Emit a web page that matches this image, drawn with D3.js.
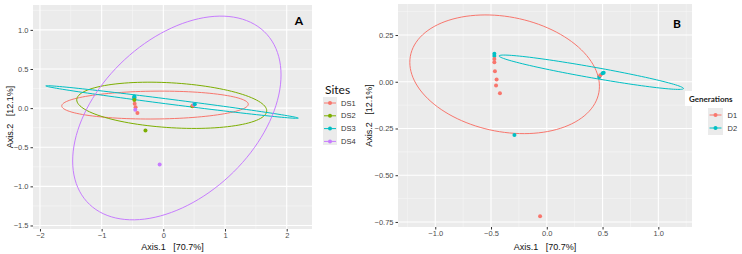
<!DOCTYPE html>
<html>
<head>
<meta charset="utf-8">
<script src="https://cdn.jsdelivr.net/npm/d3@7"></script>
<style>
  body { margin: 0; background: #fff; }
  svg { display: block; }
  .tick text { font-family: "Liberation Sans", Arial, sans-serif; font-size: 7.5px; fill: #4d4d4d; }
  .tick line { stroke: #333; }
  .axisTitle { font-family: "Liberation Sans", Arial, sans-serif; font-size: 9px; fill: #111; }
</style>
</head>
<body>
<div id="chart"></div>
<script>
// PCoA scores (Axis.1, Axis.2), with their site and generation
var axis1 = [-0.47, -0.47, -0.47, -0.47, -0.465, -0.45, -0.455, -0.42, -0.29, 0.47, 0.48, 0.50, 0.51, -0.06];
var axis2 = [0.150, 0.138, 0.122, 0.104, 0.056, 0.012, -0.020, -0.062, -0.285, 0.025, 0.035, 0.045, 0.048, -0.72];
var site = ["DS3", "DS3", "DS3", "DS2", "DS1", "DS1", "DS4", "DS1", "DS2", "DS2", "DS1", "DS4", "DS3", "DS4"];
var generation = ["D2", "D2", "D1", "D1", "D1", "D1", "D1", "D1", "D2", "D2", "D1", "D2", "D2", "D1"];

var sites = ["DS1", "DS2", "DS3", "DS4"];
var generations = ["D1", "D2"];

// ellipses: centre, vector to rightmost point, half vertical chord (data units)
var siteEllipses = [
  { group: "DS1", cx: -0.135, cy: 0.039, ux: 1.512, uy: 0.011, h: 0.178 },
  { group: "DS2", cx: 0.136, cy: 0.036, ux: 1.54, uy: -0.07, h: 0.287 },
  { group: "DS3", cx: 0.141, cy: 0.078, ux: 2.047, uy: -0.206, h: 0.032 },
  { group: "DS4", cx: 0.219, cy: -0.126, ux: 1.689, uy: 0.55, h: 1.18 }
];
var genEllipses = [
  { group: "D1", cx: -0.378, cy: 0.040, ux: 0.850, uy: -0.064, h: 0.311 },
  { group: "D2", cx: 0.399, cy: 0.051, ux: 0.827, uy: -0.087, h: 0.0295 }
];

var xTicksA = [-2, -1, 0, 1, 2];
var yTicksA = [-1.5, -1.0, -0.5, 0.0, 0.5, 1.0];
var xTicksB = [-1.0, -0.5, 0.0, 0.5, 1.0];
var yTicksB = [-0.75, -0.50, -0.25, 0.00, 0.25];

var siteColor = d3.scaleOrdinal().domain(sites).range(["#F8766D", "#7CAE00", "#00BFC4", "#C77CFF"]);
var genColor = d3.scaleOrdinal().domain(generations).range(["#F8766D", "#00BFC4"]);

var points = axis1.map(function(v, i) {
  return { x: v, y: axis2[i], site: site[i], gen: generation[i] };
});

var svg = d3.select("#chart").append("svg")
  .attr("width", 742)
  .attr("height", 254);

function drawPanel(opt) {
  var x = d3.scaleLinear().domain(opt.xDomain).range([opt.left, opt.right]);
  var y = d3.scaleLinear().domain(opt.yDomain).range([opt.bottom, opt.top]);
  var g = svg.append("g");

  g.append("rect")
    .attr("x", opt.left).attr("y", opt.top)
    .attr("width", opt.right - opt.left).attr("height", opt.bottom - opt.top)
    .attr("fill", "#ebebeb");

  // minor grid
  var xt = opt.xTicks, yt = opt.yTicks;
  var dx = xt[1] - xt[0], dy = yt[1] - yt[0];
  var xMinor = [], yMinor = [];
  for (var i = -1; i < xt.length; i++) {
    var m = xt[0] + dx * (i + 0.5);
    if (m > opt.xDomain[0] && m < opt.xDomain[1]) xMinor.push(m);
  }
  for (var j = -1; j < yt.length; j++) {
    var n = yt[0] + dy * (j + 0.5);
    if (n > opt.yDomain[0] && n < opt.yDomain[1]) yMinor.push(n);
  }
  g.selectAll(".xminor").data(xMinor).enter().append("line")
    .attr("x1", d => x(d)).attr("x2", d => x(d))
    .attr("y1", opt.top).attr("y2", opt.bottom)
    .attr("stroke", "#f7f7f7").attr("stroke-width", 0.6);
  g.selectAll(".yminor").data(yMinor).enter().append("line")
    .attr("y1", d => y(d)).attr("y2", d => y(d))
    .attr("x1", opt.left).attr("x2", opt.right)
    .attr("stroke", "#f7f7f7").attr("stroke-width", 0.6);
  // major grid
  g.selectAll(".xmajor").data(xt).enter().append("line")
    .attr("x1", d => x(d)).attr("x2", d => x(d))
    .attr("y1", opt.top).attr("y2", opt.bottom)
    .attr("stroke", "#fff").attr("stroke-width", 1.1);
  g.selectAll(".ymajor").data(yt).enter().append("line")
    .attr("y1", d => y(d)).attr("y2", d => y(d))
    .attr("x1", opt.left).attr("x2", opt.right)
    .attr("stroke", "#fff").attr("stroke-width", 1.1);

  // axes
  var xAxis = d3.axisBottom(x).tickValues(xt).tickSize(2.5).tickPadding(1)
    .tickFormat(d3.format("." + opt.xDigits + "f"));
  var yAxis = d3.axisLeft(y).tickValues(yt).tickSize(2.5).tickPadding(2)
    .tickFormat(d3.format("." + opt.yDigits + "f"));
  g.append("g").attr("transform", `translate(0, ${opt.bottom})`).call(xAxis)
    .call(a => a.select(".domain").remove());
  g.append("g").attr("transform", `translate(${opt.left}, 0)`).call(yAxis)
    .call(a => a.select(".domain").remove());

  // ellipses
  var line = d3.line().x(d => x(d[0])).y(d => y(d[1])).curve(d3.curveLinearClosed);
  g.selectAll(".ell").data(opt.ellipses).enter().append("path")
    .attr("d", function(e) {
      var pts = d3.range(0, 120).map(function(k) {
        var t = k / 120 * 2 * Math.PI;
        return [e.cx + e.ux * Math.cos(t), e.cy + e.uy * Math.cos(t) + e.h * Math.sin(t)];
      });
      return line(pts);
    })
    .attr("fill", "none")
    .attr("stroke", e => opt.color(e.group))
    .attr("stroke-width", 1);

  // points
  g.selectAll(".pt").data(points).enter().append("circle")
    .attr("cx", d => x(d.x))
    .attr("cy", d => y(d.y))
    .attr("r", 2)
    .attr("fill", d => opt.color(d[opt.key]));

  // axis titles
  g.append("text").attr("class", "axisTitle")
    .attr("x", (opt.left + opt.right) / 2).attr("y", 250)
    .attr("text-anchor", "middle")
    .attr("xml:space", "preserve")
    .text("Axis.1   [70.7%]");
  g.append("text").attr("class", "axisTitle")
    .attr("transform", `translate(${opt.yTitleX}, ${(opt.top + opt.bottom) / 2}) rotate(-90)`)
    .attr("text-anchor", "middle")
    .attr("xml:space", "preserve")
    .text("Axis.2   [12.1%]");

  // panel letter
  g.append("text")
    .attr("x", opt.letterX).attr("y", opt.letterY)
    .attr("font-family", "Lato, 'Open Sans', sans-serif")
    .attr("font-weight", "bold").attr("font-size", 12)
    .attr("text-anchor", "middle")
    .text(opt.letter);
}

drawPanel({
  left: 33, right: 312, top: 5, bottom: 229,
  xDomain: [-2.113, 2.41], yDomain: [-1.545, 1.318],
  xTicks: xTicksA, yTicks: yTicksA, xDigits: 0, yDigits: 1,
  ellipses: siteEllipses, color: siteColor, key: "site",
  yTitleX: 13, letter: "A", letterX: 299, letterY: 25
});

drawPanel({
  left: 398, right: 692, top: 4, bottom: 227,
  xDomain: [-1.334, 1.302], yDomain: [-0.777, 0.416],
  xTicks: xTicksB, yTicks: yTicksB, xDigits: 1, yDigits: 2,
  ellipses: genEllipses, color: genColor, key: "gen",
  yTitleX: 372, letter: "B", letterX: 677, letterY: 28
});

// legend A
var legA = svg.append("g");
legA.append("text")
  .attr("x", 325).attr("y", 94)
  .attr("font-family", "Lato, 'Open Sans', sans-serif").attr("font-size", 12)
  .attr("fill", "#111")
  .text("Sites");
legA.append("rect").attr("x", 323).attr("y", 97).attr("width", 14).attr("height", 48).attr("fill", "#ebebeb");
var itemsA = legA.selectAll(".item").data(sites).enter().append("g")
  .attr("transform", (d, i) => `translate(330, ${103 + i * 12.8})`);
itemsA.append("line").attr("x1", -6).attr("x2", 6).attr("stroke", d => siteColor(d)).attr("stroke-width", 1);
itemsA.append("circle").attr("r", 2).attr("fill", d => siteColor(d));
itemsA.append("text").attr("x", 11).attr("dy", "0.35em")
  .attr("font-family", "Liberation Sans, Arial, sans-serif").attr("font-size", 7.5).attr("fill", "#333")
  .text(d => d);

// legend B
var legB = svg.append("g");
legB.append("rect").attr("x", 685).attr("y", 91).attr("width", 57).attr("height", 15).attr("fill", "#fff");
legB.append("text")
  .attr("x", 689).attr("y", 101.5)
  .attr("font-family", "Lato, 'Open Sans', sans-serif").attr("font-size", 8).attr("font-weight", "bold")
  .attr("fill", "#222")
  .text("Generations");
legB.append("rect").attr("x", 708).attr("y", 108).attr("width", 15).attr("height", 27).attr("fill", "#ebebeb");
var itemsB = legB.selectAll(".item").data(generations).enter().append("g")
  .attr("transform", (d, i) => `translate(715.5, ${115 + i * 13})`);
itemsB.append("line").attr("x1", -6).attr("x2", 6).attr("stroke", d => genColor(d)).attr("stroke-width", 1);
itemsB.append("circle").attr("r", 2).attr("fill", d => genColor(d));
itemsB.append("text").attr("x", 12).attr("dy", "0.35em")
  .attr("font-family", "Liberation Sans, Arial, sans-serif").attr("font-size", 7.5).attr("fill", "#333")
  .text(d => d);
</script>
</body>
</html>
